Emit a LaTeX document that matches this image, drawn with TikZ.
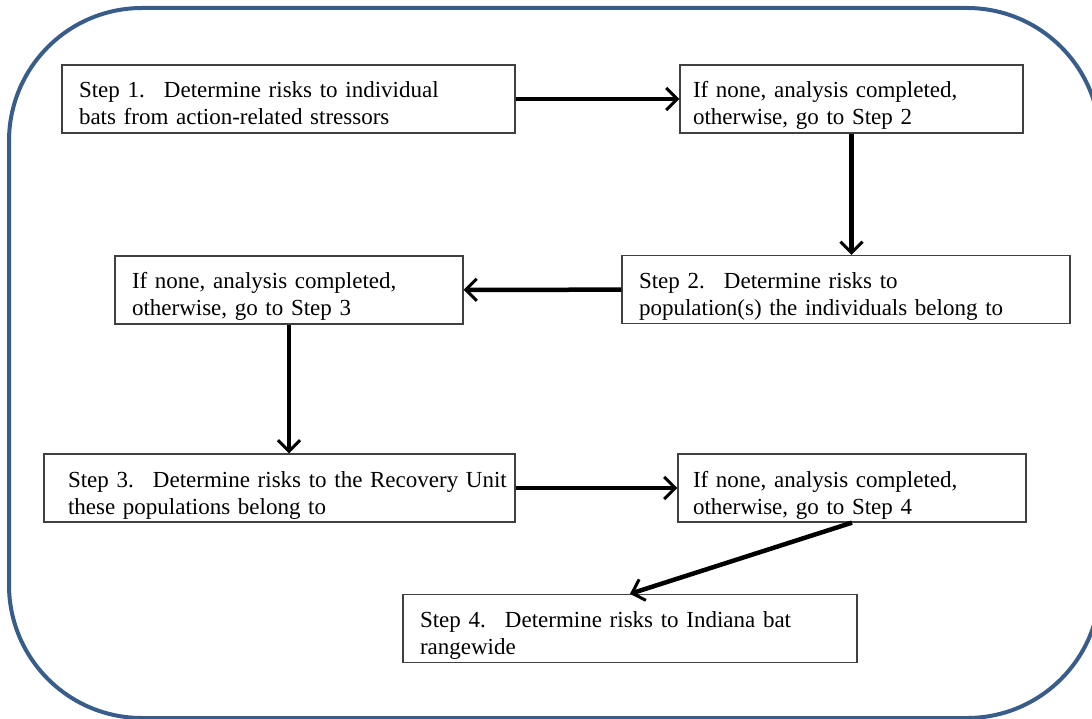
\documentclass[tikz,border=0pt]{standalone}
\usepackage{fontspec}
\setmainfont{Liberation Serif}
\usetikzlibrary{arrows.meta}
\definecolor{frameblue}{HTML}{385D8A}

\begin{document}
\begin{tikzpicture}[x=1pt, y=-1pt,
    stepbox/.style={draw=black!75, line width=1.3pt, minimum height=68pt,
        inner ysep=0pt, text height=30pt, text depth=32pt, align=left,
        font=\fontsize{23}{27}\selectfont},
    flow/.style={line width=4.5pt,
        -{Straight Barb[length=11pt, width=22pt, line width=3pt]}}]
    \useasboundingbox (0,0) rectangle (1092,719);
    \clip (0,0) rectangle (1092,719);
    \draw [frameblue, line width=4pt, rounded corners=133pt] (9,8) rectangle (1100,718);
    %
    \draw
    (288.5,99)node(s1)[stepbox, inner xsep=17pt, text width=419pt]{Step 1.~ Determine risks to individual\\bats from action-related stressors}
    (851.5,99)node(n1)[stepbox, inner xsep=13pt, text width=317pt]{If none, analysis completed,\\otherwise, go to Step 2}
    (846,289.5)node(s2)[stepbox, inner xsep=17pt, text width=414pt]{Step 2.~ Determine risks to\\population(s) the individuals belong to}
    (289,290)node(n2)[stepbox, inner xsep=17pt, text width=314pt]{If none, analysis completed,\\otherwise, go to Step 3}
    (279.5,488)node(s3)[stepbox, inner xsep=24pt, text width=423pt]{\mbox{Step 3.~ Determine risks to the Recovery Unit}\\these populations belong to}
    (852,488)node(n3)[stepbox, inner xsep=15pt, text width=318pt]{If none, analysis completed,\\otherwise, go to Step 4}
    (630,628.5)node(s4)[stepbox, inner xsep=17pt, text width=420pt]{Step 4.~ Determine risks to Indiana bat\\rangewide};
    %
    \draw [flow](s1)--(n1);
    \draw [flow](n1.south)--(n1.south |- s2.north);
    \draw [flow](s2)--(n2);
    \draw [flow](n2.south)--(n2.south |- s3.north);
    \draw [flow](s3)--(n3);
    \draw [flow](n3.south)--(s4.north);
\end{tikzpicture}
\end{document}
